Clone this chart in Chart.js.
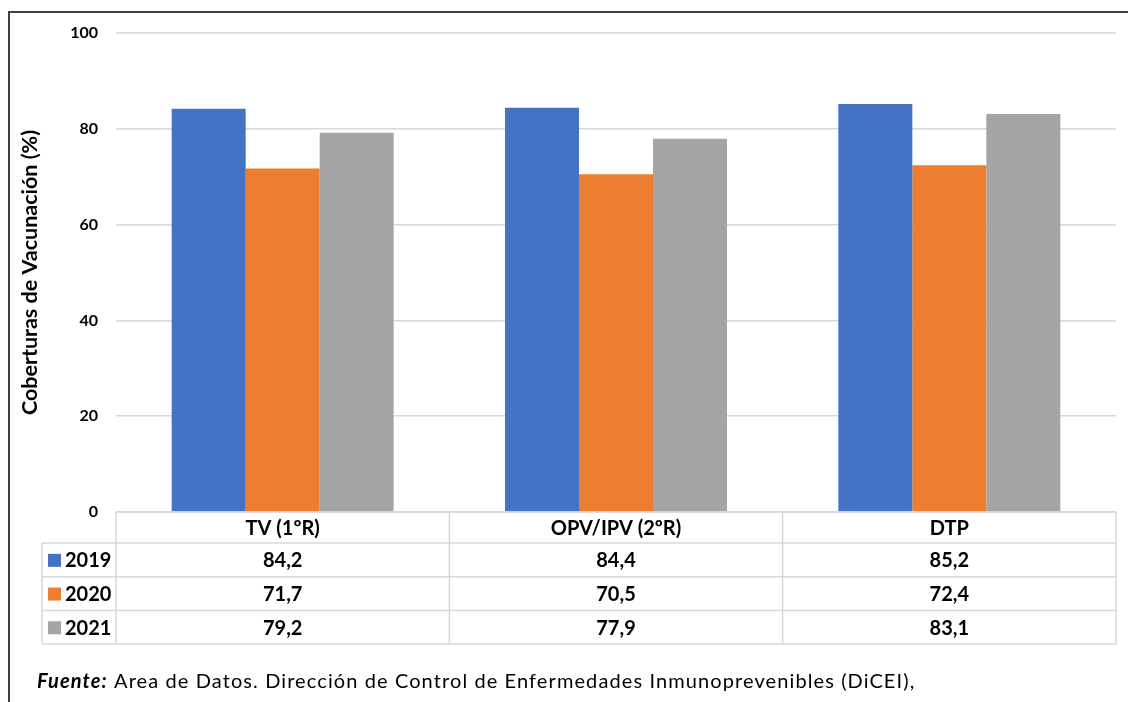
<!DOCTYPE html>
<html lang="es">
<head>
    <meta charset="UTF-8">
    <title>Coberturas de Vacunación</title>
    <style>
        body { margin: 0; padding: 0; background: #fff; }
        #wrap { width: 1128px; height: 702px; position: relative; }
    </style>
</head>
<body>
    <div id="wrap"><canvas id="chart" width="1128" height="702"></canvas></div>

    <script src="https://cdn.jsdelivr.net/npm/chart.js"></script>
    <script>
        // data
        const categories = ['TV (1ºR)', 'OPV/IPV (2ºR)', 'DTP'];
        const years = ['2019', '2020', '2021'];
        const values2019 = [84.2, 84.4, 85.2];
        const values2020 = [71.7, 70.5, 72.4];
        const values2021 = [79.2, 77.9, 83.1];
        const colors = ['#4472C4', '#ED7D31', '#A5A5A5'];
        const yTitle = 'Coberturas de Vacunación (%)';

        const FONT = 'Lato, "Open Sans", sans-serif';
        const fmt = v => v.toFixed(1).replace('.', ',');

        // draws frame, data table below the axis and source note
        const tablePlugin = {
            id: 'dataTable',
            afterDraw(chart) {
                const ctx = chart.ctx;
                const area = chart.chartArea;
                const xs = chart.scales.x;
                const series = chart.data.datasets;
                const colW = (area.right - area.left) / categories.length;
                const headTop = area.bottom;
                const headH = 31;
                const rowH = 33.7;
                const tableLeft = 42;

                ctx.save();
                // frame
                ctx.strokeStyle = '#404040';
                ctx.lineWidth = 2;
                ctx.beginPath();
                ctx.moveTo(9, 702);
                ctx.lineTo(9, 12);
                ctx.lineTo(1128, 12);
                ctx.stroke();

                // table grid
                ctx.strokeStyle = '#d9d9d9';
                ctx.lineWidth = 1.5;
                const bottom = headTop + headH + rowH * series.length;
                ctx.beginPath();
                ctx.moveTo(area.left, headTop);
                ctx.lineTo(area.right, headTop);
                for (let r = 0; r <= series.length; r++) {
                    const y = headTop + headH + rowH * r;
                    ctx.moveTo(tableLeft, y);
                    ctx.lineTo(area.right, y);
                }
                ctx.moveTo(tableLeft, headTop + headH);
                ctx.lineTo(tableLeft, bottom);
                for (let c = 0; c <= categories.length; c++) {
                    const x = area.left + colW * c;
                    ctx.moveTo(x, headTop);
                    ctx.lineTo(x, bottom);
                }
                ctx.stroke();

                // header
                ctx.fillStyle = '#000';
                ctx.font = 'bold 20px ' + FONT;
                ctx.textAlign = 'center';
                ctx.textBaseline = 'middle';
                categories.forEach((c, i) => {
                    ctx.fillText(c, xs.getPixelForValue(i), headTop + headH / 2 + 1);
                });

                // rows
                series.forEach((ds, r) => {
                    const yc = headTop + headH + rowH * r + rowH / 2 + 1;
                    ctx.fillStyle = ds.backgroundColor;
                    ctx.fillRect(48, yc - 7, 13, 13);
                    ctx.fillStyle = '#000';
                    ctx.textAlign = 'left';
                    ctx.fillText(ds.label, 65, yc);
                    ctx.textAlign = 'center';
                    ds.data.forEach((v, i) => {
                        ctx.fillText(fmt(v), xs.getPixelForValue(i), yc);
                    });
                });

                // source note
                ctx.textAlign = 'left';
                ctx.textBaseline = 'alphabetic';
                ctx.letterSpacing = '1.1px';
                ctx.font = 'italic bold 20px ' + FONT;
                const lead = 'Fuente:';
                ctx.fillText(lead, 37, 688);
                const w = ctx.measureText(lead).width;
                ctx.font = '20px ' + FONT;
                ctx.fillText(' Area de Datos. Dirección de Control de Enfermedades Inmunoprevenibles (DiCEI),', 37 + w, 688);
                ctx.restore();
            }
        };

        new Chart(document.getElementById('chart'), {
            type: 'bar',
            data: {
                labels: categories,
                datasets: [
                    { label: years[0], data: values2019, backgroundColor: colors[0] },
                    { label: years[1], data: values2020, backgroundColor: colors[1] },
                    { label: years[2], data: values2021, backgroundColor: colors[2] }
                ]
            },
            options: {
                responsive: false,
                animation: false,
                layout: { padding: { top: 33, right: 12, bottom: 190, left: 0 } },
                datasets: {
                    bar: { barPercentage: 1, categoryPercentage: 0.666 }
                },
                plugins: {
                    legend: { display: false },
                    tooltip: { enabled: false }
                },
                scales: {
                    x: {
                        ticks: { display: false },
                        grid: { display: false },
                        border: { display: false },
                        afterFit(scale) { scale.height = 0; }
                    },
                    y: {
                        min: 0,
                        max: 100,
                        ticks: {
                            stepSize: 20,
                            padding: 18,
                            color: '#000',
                            font: { family: FONT, size: 16, weight: 'bold' }
                        },
                        grid: { color: '#d9d9d9', lineWidth: 1.5, drawTicks: false },
                        border: { display: false },
                        title: {
                            display: true,
                            text: yTitle,
                            color: '#000',
                            padding: { top: 17, bottom: 0 },
                            font: { family: FONT, size: 21.5, weight: 'bold' }
                        },
                        afterFit(scale) { scale.width = 116; }
                    }
                }
            },
            plugins: [tablePlugin]
        });
    </script>
</body>
</html>
